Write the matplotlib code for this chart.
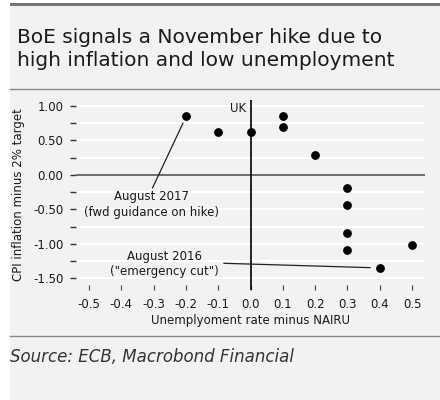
import matplotlib
matplotlib.use("Agg")
import matplotlib.pyplot as plt
from matplotlib.patches import Rectangle
from matplotlib.lines import Line2D

# unemployment gap vs inflation gap
unemp_gap = [-0.2, -0.1, 0.0, 0.1, 0.1, 0.2, 0.3, 0.3, 0.3, 0.3, 0.4, 0.5]
cpi_gap = [0.85, 0.62, 0.63, 0.85, 0.69, 0.29, -0.19, -0.44, -0.84, -1.09, -1.35, -1.01]

x_ticks = [-0.5, -0.4, -0.3, -0.2, -0.1, 0.0, 0.1, 0.2, 0.3, 0.4, 0.5]
y_ticks = [1.0, 0.5, 0.0, -0.5, -1.0, -1.5]
y_minor = [0.75, 0.25, -0.25, -0.75, -1.25]

title = "BoE signals a November hike due to\nhigh inflation and low unemployment"
source = "Source: ECB, Macrobond Financial"

# annotations: (text, text pos, line start, line end)
note_2017 = ("August 2017\n(fwd guidance on hike)", (-0.305, -0.43), (-0.209, 0.75), (-0.303, -0.185))
note_2016 = ("August 2016\n(\"emergency cut\")", (-0.265, -1.29), (-0.082, -1.28), (0.37, -1.343))

BG = "#f2f2f2"
TXT = "#1a1a1a"
plt.rcParams["font.family"] = ["DejaVu Sans"]

fig = plt.figure(figsize=(4.4, 4.0), dpi=100, facecolor="white")

# panel background + rules
fig.patches.append(Rectangle((10 / 440, 0), 430 / 440, 394 / 400, transform=fig.transFigure,
                             facecolor=BG, edgecolor="none", zorder=-5))
fig.patches.append(Rectangle((10 / 440, 394 / 400), 430 / 440, 3 / 400, transform=fig.transFigure,
                             facecolor="#777777", edgecolor="none", zorder=-4))
for yy in (1 - 89 / 400, 1 - 336 / 400):
    fig.lines.append(Line2D([10 / 440, 1], [yy, yy], transform=fig.transFigure, color="#888888",
                            lw=1, zorder=-4))

fig.text(17 / 440, 1 - 28 / 400, title, ha="left", va="top", fontsize=14.5, color=TXT,
         linespacing=1.25)
fig.text(10 / 440, 1 - 362 / 400, source, ha="left", va="baseline", fontsize=12, color="#333333",
         style="italic")

ax = fig.add_axes([76 / 440, 110 / 400, 349 / 440, 190 / 400])
ax.set_zorder(2)
ax.set_facecolor(BG)
for s in ax.spines.values():
    s.set_visible(False)

ax.set_xlim(-0.54, 0.54)
ax.set_ylim(-1.667, 1.087)

for g in y_ticks + y_minor:
    if g != 0:
        ax.axhline(g, color="white", lw=1.5, zorder=1)
ax.axhline(0, color="#555555", lw=1.2, zorder=2)
ax.axvline(0, color="black", lw=1.2, zorder=2)

ax.scatter(unemp_gap, cpi_gap, s=28, color="black", zorder=4)

ax.set_yticks(y_ticks)
ax.set_yticklabels(["%.2f" % v for v in y_ticks])
ax.set_yticks(y_minor, minor=True)
ax.set_xticks(x_ticks)
ax.set_xticklabels(["%.1f" % v for v in x_ticks])
ax.tick_params(axis="y", which="both", length=4, width=1, color="#333333", pad=5,
               labelsize=8.5, labelcolor=TXT)
ax.tick_params(axis="x", direction="in", length=3.5, width=0.8, color="#444444", pad=6,
               labelsize=8.5, labelcolor=TXT)

ax.set_xlabel("Unemplyoment rate minus NAIRU", fontsize=8.5, color=TXT, labelpad=2)
ax.set_ylabel("CPI inflation minus 2% target", fontsize=8.5, color=TXT, labelpad=6)

ax.text(-0.015, 0.96, "UK", ha="right", va="center", fontsize=8.5, color=TXT)

for txt, pos, p0, p1 in (note_2017, note_2016):
    ax.plot([p0[0], p1[0]], [p0[1], p1[1]], color="#222222", lw=0.9, zorder=3)
    ax.text(pos[0], pos[1], txt, ha="center", va="center", fontsize=8.5, color=TXT,
            linespacing=1.25, zorder=5)

fig.savefig("out.png", dpi=100, facecolor="white")
